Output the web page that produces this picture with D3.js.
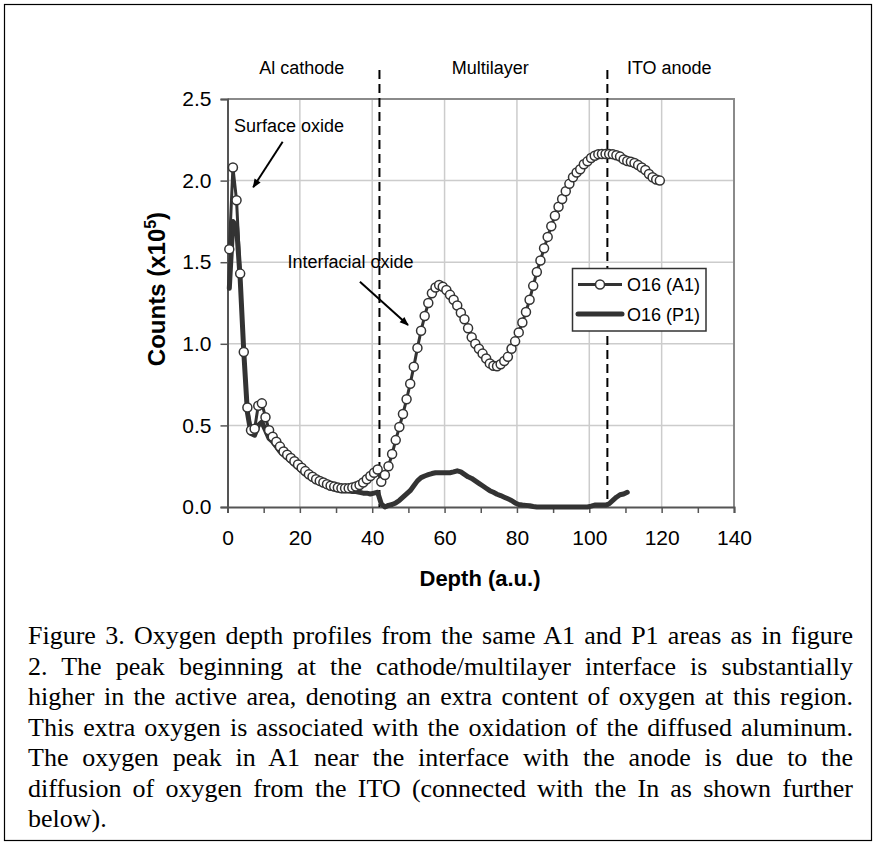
<!DOCTYPE html>
<html>
<head>
<meta charset="utf-8">
<script src="https://cdn.jsdelivr.net/npm/d3@7"></script>
<style>
  html, body { margin: 0; padding: 0; background: #fff; }
  svg { display: block; }
</style>
</head>
<body>
<svg id="chart" width="877" height="846"></svg>
<script>
// ---------------- DATA ----------------
const depthStart = 0.5;  // first sampled depth (a.u.), 1 a.u. step
const a1Values = [
  1.58, 2.08, 1.88, 1.43, 0.95, 0.61, 0.47, 0.48, 0.62, 0.635,
  0.55, 0.47, 0.43, 0.40, 0.37, 0.34, 0.32, 0.30, 0.28, 0.26,
  0.24, 0.22, 0.20, 0.185, 0.17, 0.16, 0.15, 0.14, 0.13, 0.125,
  0.12, 0.115, 0.115, 0.115, 0.12, 0.125, 0.135, 0.15, 0.17, 0.19,
  0.21, 0.23, 0.155, 0.196, 0.25, 0.325, 0.41, 0.49, 0.57, 0.66,
  0.755, 0.86, 0.975, 1.08, 1.17, 1.25, 1.31, 1.345, 1.36, 1.35,
  1.33, 1.30, 1.27, 1.235, 1.19, 1.15, 1.095, 1.04, 1.00, 0.97,
  0.94, 0.91, 0.88, 0.865, 0.862, 0.875, 0.895, 0.92, 0.97, 1.015,
  1.07, 1.13, 1.195, 1.27, 1.355, 1.44, 1.51, 1.585, 1.655, 1.72,
  1.785, 1.84, 1.887, 1.935, 1.98, 2.02, 2.05, 2.07, 2.10, 2.118,
  2.138, 2.152, 2.162, 2.163, 2.163, 2.163, 2.162, 2.155, 2.147, 2.13,
  2.12, 2.115, 2.108, 2.095, 2.08, 2.065, 2.04, 2.02, 2.007, 2.0
];
const p1Values = [
  1.34, 1.75, 1.72, 1.40, 0.95, 0.58, 0.45, 0.44, 0.50, 0.52,
  0.47, 0.42, 0.40, 0.37, 0.34, 0.32, 0.30, 0.28, 0.26, 0.24,
  0.22, 0.20, 0.185, 0.17, 0.155, 0.145, 0.135, 0.125, 0.12, 0.11,
  0.105, 0.10, 0.10, 0.10, 0.095, 0.095, 0.09, 0.085, 0.085, 0.08,
  0.085, 0.09, 0.02, 0.0, 0.01, 0.015, 0.025, 0.04, 0.06, 0.08,
  0.10, 0.13, 0.16, 0.18, 0.19, 0.198, 0.205, 0.21, 0.21, 0.21,
  0.21, 0.21, 0.215, 0.222, 0.215, 0.20, 0.185, 0.175, 0.16, 0.145,
  0.13, 0.115, 0.10, 0.09, 0.078, 0.07, 0.06, 0.05, 0.04, 0.025,
  0.015, 0.012, 0.01, 0.008, 0.003, 0.0, 0.0, 0.0, 0.0, 0.0,
  0.0, 0.0, 0.0, 0.0, 0.0, 0.0, 0.0, 0.0, 0.0, 0.0,
  0.005, 0.012, 0.012, 0.012, 0.012, 0.02, 0.04, 0.06, 0.075, 0.08,
  0.09
];
const seriesNames = ["O16 (A1)", "O16 (P1)"];
const xTicks = [0, 20, 40, 60, 80, 100, 120, 140];
const xMinorTicks = [10, 30, 50, 70, 90, 110, 130];
const yTicks = [0.0, 0.5, 1.0, 1.5, 2.0, 2.5];
const interfaceDepths = [42, 105];
const regionLabels = ["Al cathode", "Multilayer", "ITO anode"];
const regionLabelDepth = [20.5, 72.6, 110.4]; // label anchors (middle, middle, start)
const annotations = [
  { text: "Surface oxide",     tx: 1.8,  ty: 2.30,  x1: 15.25, y1: 2.238, x2: 7.1,  y2: 1.959 },
  { text: "Interfacial oxide", tx: 16.6, ty: 1.464, x1: 36.6,  y1: 1.38,  x2: 49.9, y2: 1.115 }
];
const captionLines = [
  "Figure 3. Oxygen depth profiles from the same A1 and P1 areas as in figure",
  "2. The peak beginning at the cathode/multilayer interface is substantially",
  "higher in the active area, denoting an extra content of oxygen at this region.",
  "This extra oxygen is associated with the oxidation of the diffused aluminum.",
  "The oxygen peak in A1 near the interface with the anode is due to the",
  "diffusion of oxygen from the ITO (connected with the In as shown further",
  "below)."
];

// ---------------- LAYOUT ----------------
const svg = d3.select("#chart");
const plot = { left: 227.5, right: 734, top: 99, bottom: 507 };
const x = d3.scaleLinear().domain([0, 140]).range([plot.left, plot.right]);
const y = d3.scaleLinear().domain([0, 2.5]).range([plot.bottom, plot.top]);
const sans = "Liberation Sans, Arial, sans-serif";
const serif = "Liberation Serif, 'Times New Roman', serif";

// outer frame
svg.append("rect").attr("x", 4.5).attr("y", 4.5).attr("width", 867).attr("height", 836)
  .attr("fill", "none").attr("stroke", "#000").attr("stroke-width", 1.2);

// grid
const g = svg.append("g");
g.selectAll("line.gx").data(xTicks.slice(1, -1)).join("line")
  .attr("x1", d => x(d)).attr("x2", d => x(d)).attr("y1", plot.top).attr("y2", plot.bottom)
  .attr("stroke", "#cccccc").attr("stroke-width", 1.5);
g.selectAll("line.gy").data(yTicks.slice(1, -1)).join("line")
  .attr("y1", d => y(d)).attr("y2", d => y(d)).attr("x1", plot.left).attr("x2", plot.right)
  .attr("stroke", "#cccccc").attr("stroke-width", 1.5);

// plot border (top/right)
g.append("path")
  .attr("d", `M${plot.left},${plot.top}H${plot.right}V${plot.bottom}`)
  .attr("fill", "none").attr("stroke", "#8a8a8a").attr("stroke-width", 2);

// axes
const xAxis = d3.axisBottom(x).tickValues(xTicks.concat(xMinorTicks)).tickSize(6).tickPadding(17)
  .tickFormat(d => xTicks.includes(d) ? d3.format("d")(d) : "");
const gx = svg.append("g").attr("transform", `translate(0,${plot.bottom})`).call(xAxis);
gx.select(".domain").attr("stroke", "#555").attr("stroke-width", 2);
gx.selectAll(".tick line").attr("stroke", "#555").attr("stroke-width", 1.5);
gx.selectAll(".tick text").attr("font-family", sans).attr("font-size", 21).attr("fill", "#000");

const yAxis = d3.axisLeft(y).tickValues(yTicks).tickSize(7).tickPadding(9).tickFormat(d3.format(".1f"));
const gy = svg.append("g").attr("transform", `translate(${plot.left},0)`).call(yAxis);
gy.select(".domain").attr("stroke", "#555").attr("stroke-width", 2);
gy.selectAll(".tick line").attr("stroke", "#555").attr("stroke-width", 1.5);
gy.selectAll(".tick text").attr("font-family", sans).attr("font-size", 21).attr("fill", "#000");

// axis titles
svg.append("text").attr("x", 480).attr("y", 586)
  .attr("text-anchor", "middle").attr("font-family", sans).attr("font-size", 22)
  .attr("font-weight", "bold").text("Depth (a.u.)");
const yt = svg.append("text").attr("transform", `translate(165,289) rotate(-90)`)
  .attr("text-anchor", "middle").attr("font-family", sans).attr("font-size", 24)
  .attr("font-weight", "bold");
yt.append("tspan").text("Counts (x10");
yt.append("tspan").attr("font-size", 16).attr("dy", -9).text("5");
yt.append("tspan").attr("dy", 9).text(")");

// interface dashed lines
svg.selectAll("line.iface").data(interfaceDepths).join("line")
  .attr("x1", d => x(d)).attr("x2", d => x(d)).attr("y1", 70).attr("y2", plot.bottom)
  .attr("stroke", "#000").attr("stroke-width", 2).attr("stroke-dasharray", "9,5");

// region labels
svg.selectAll("text.region").data(regionLabels).join("text")
  .attr("x", (d, i) => x(regionLabelDepth[i]))
  .attr("y", 74)
  .attr("text-anchor", (d, i) => i < 2 ? "middle" : "start")
  .attr("font-family", sans).attr("font-size", 18).text(d => d);

// data
const a1 = a1Values.map((v, i) => [depthStart + i, v]);
const p1 = p1Values.map((v, i) => [depthStart + i, v]);
const line = d3.line().x(d => x(d[0])).y(d => y(d[1]));

svg.append("path").datum(p1).attr("d", line).attr("fill", "none")
  .attr("stroke", "#333").attr("stroke-width", 5).attr("stroke-linejoin", "round").attr("stroke-linecap", "round");
svg.append("path").datum(a1).attr("d", line).attr("fill", "none")
  .attr("stroke", "#333").attr("stroke-width", 3).attr("stroke-linejoin", "round");
svg.selectAll("circle.a1").data(a1).join("circle")
  .attr("cx", d => x(d[0])).attr("cy", d => y(d[1])).attr("r", 4.5)
  .attr("fill", "#fff").attr("stroke", "#333").attr("stroke-width", 1.5);

// annotations
const defs = svg.append("defs");
defs.append("marker").attr("id", "arrow").attr("viewBox", "0 0 10 10").attr("refX", 9).attr("refY", 5)
  .attr("markerWidth", 5.5).attr("markerHeight", 4.5).attr("orient", "auto")
  .append("path").attr("d", "M0,1 L10,5 L0,9 Z").attr("fill", "#000");
annotations.forEach(a => {
  svg.append("text").attr("x", x(a.tx)).attr("y", y(a.ty)).attr("font-family", sans)
    .attr("font-size", 18).attr("fill", "#000").text(a.text);
  svg.append("line").attr("x1", x(a.x1)).attr("y1", y(a.y1)).attr("x2", x(a.x2)).attr("y2", y(a.y2))
    .attr("stroke", "#000").attr("stroke-width", 2).attr("marker-end", "url(#arrow)");
});

// legend
const lg = svg.append("g");
lg.append("rect").attr("x", 572.5).attr("y", 268.5).attr("width", 133.5).attr("height", 62.5)
  .attr("fill", "#fff").attr("stroke", "#333").attr("stroke-width", 1.5);
const legY = [284.5, 314];
lg.append("line").attr("x1", 578).attr("x2", 622).attr("y1", legY[0]).attr("y2", legY[0])
  .attr("stroke", "#333").attr("stroke-width", 3);
lg.append("circle").attr("cx", 600).attr("cy", legY[0]).attr("r", 4.5)
  .attr("fill", "#fff").attr("stroke", "#333").attr("stroke-width", 1.5);
lg.append("line").attr("x1", 578).attr("x2", 622).attr("y1", legY[1]).attr("y2", legY[1])
  .attr("stroke", "#333").attr("stroke-width", 5).attr("stroke-linecap", "round");
lg.selectAll("text").data(seriesNames).join("text")
  .attr("x", 627).attr("y", (d, i) => legY[i] + 6.5).attr("font-family", sans)
  .attr("font-size", 18).text(d => d);

// caption (justified)
const capLeft = 28, capWidth = 825, capBase = 644, capStep = 30.5;
captionLines.forEach((t, i) => {
  const tx = svg.append("text").attr("x", capLeft).attr("y", capBase + i * capStep)
    .attr("font-family", serif).attr("font-size", 26).attr("fill", "#000").text(t);
  if (i < captionLines.length - 1) {
    const len = tx.node().getComputedTextLength();
    const spaces = (t.match(/ /g) || []).length;
    if (spaces > 0) tx.attr("word-spacing", (capWidth - len) / spaces);
  }
});
</script>
</body>
</html>
